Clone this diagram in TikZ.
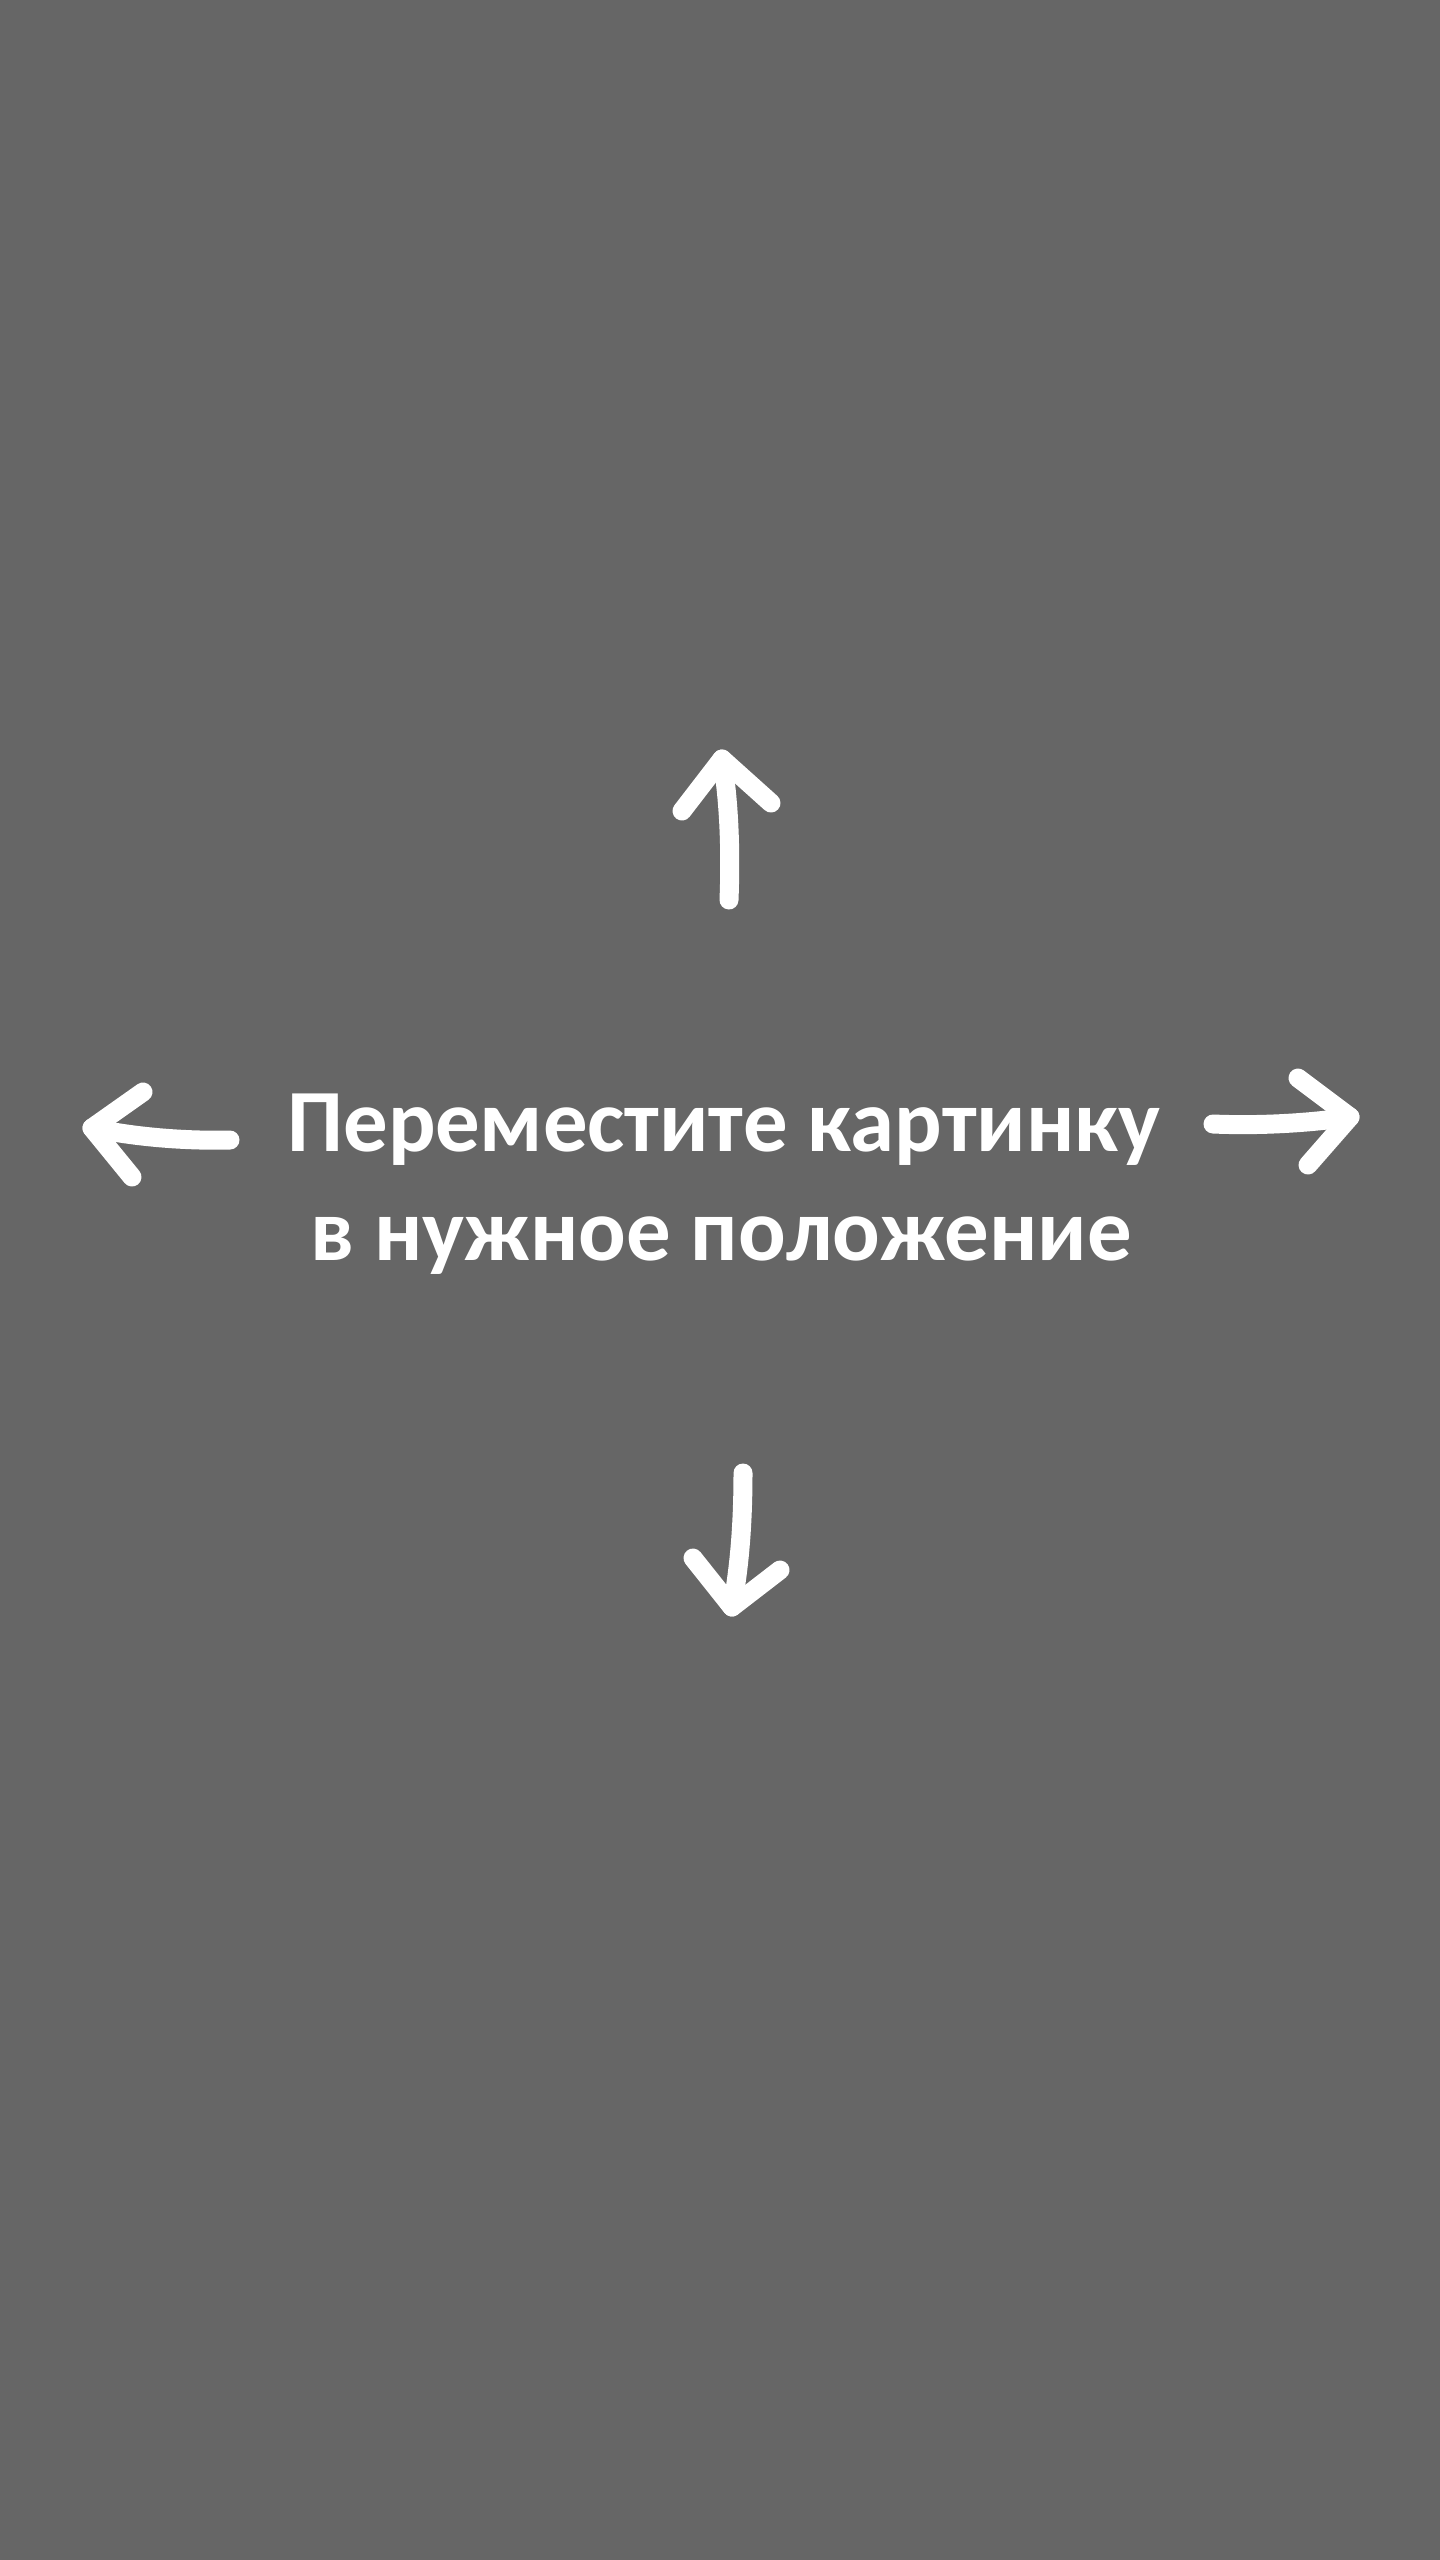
\documentclass[tikz,border=0pt]{standalone}
\usepackage{fontspec}
\setmainfont{Carlito}
\definecolor{bg}{HTML}{666666}
\begin{document}
\begin{tikzpicture}[x=0.5pt,y=-0.5pt,
  arr/.style={draw=white,line width=9.5pt,line cap=round,line join=round},
  lbl/.style={text=white,font=\bfseries\fontsize{44.4pt}{54.5pt}\selectfont,anchor=base,inner sep=0pt}]
\fill[bg] (0,0) rectangle (1440,2560);
\useasboundingbox (0,0) rectangle (1440,2560);
\node[lbl] (l1) at (724,1151) {Переместите картинку};
\node[lbl] (l2) at (721,1260) {в нужное положение};
% up
\coordinate (us) at (729,900); \coordinate (ut) at (722,759);
\coordinate (ua) at (682,811); \coordinate (ub) at (771,803);
\draw[arr] (us) .. controls (731,850) and (729,800) .. (ut);
\draw[arr] (ua) -- (ut) -- (ub);
% left
\coordinate (ls) at (230,1140); \coordinate (lt) at (92,1128);
\coordinate (la) at (143,1092); \coordinate (lb) at (132,1177);
\draw[arr] (ls) .. controls (190,1141) and (140,1138) .. (lt);
\draw[arr] (la) -- (lt) -- (lb);
% right
\coordinate (rs) at (1213,1124); \coordinate (rt) at (1350,1117);
\coordinate (ra) at (1298,1078); \coordinate (rb) at (1308,1165);
\draw[arr] (rs) .. controls (1260,1126) and (1310,1123) .. (rt);
\draw[arr] (ra) -- (rt) -- (rb);
% down
\coordinate (ds) at (743,1473); \coordinate (dt) at (732,1607);
\coordinate (da) at (693,1558); \coordinate (db) at (780,1570);
\draw[arr] (ds) .. controls (743,1520) and (740,1565) .. (dt);
\draw[arr] (da) -- (dt) -- (db);
\end{tikzpicture}
\end{document}
